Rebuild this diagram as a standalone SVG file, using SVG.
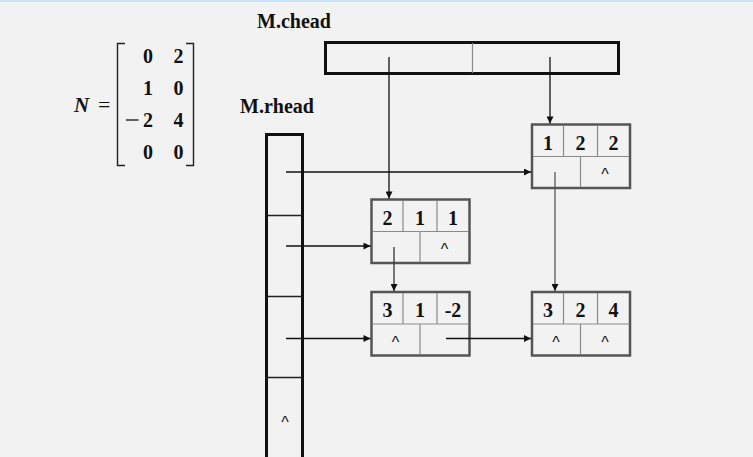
<svg xmlns="http://www.w3.org/2000/svg" width="753" height="457" viewBox="0 0 753 457">
<style>
.num{font-family:"Liberation Serif","Times New Roman",serif;font-weight:bold;font-size:20px;fill:#111;text-anchor:middle}
.mat{font-family:"Liberation Serif","Times New Roman",serif;font-weight:bold;font-size:20px;fill:#111;text-anchor:middle}
.lbl{font-family:"Liberation Serif","Times New Roman",serif;font-weight:bold;font-size:20px;fill:#111}
.nil{font-family:"Liberation Sans",Arial,sans-serif;font-size:16px;fill:#111;text-anchor:middle}
.box{fill:none;stroke:#555;stroke-width:2.5}
.in{fill:none;stroke:#8a8a8a;stroke-width:1.2}
.head{fill:none;stroke:#111;stroke-width:3}
.conn{fill:none;stroke:#111;stroke-width:1.3;marker-end:url(#ah)}
</style>
<defs>
<marker id="ah" viewBox="0 0 10 10" refX="10" refY="5" markerWidth="8" markerHeight="7" markerUnits="userSpaceOnUse" orient="auto">
<path d="M0,0 L10,5 L0,10 z" fill="#111"/>
</marker>
</defs>
<rect width="753" height="457" fill="#f2f2f2"/>
<rect width="753" height="2" fill="#c9e4f8"/>

<g id="matrix">
<text x="74" y="112" font-family="'Liberation Serif','Times New Roman',serif" font-style="italic" font-weight="bold" font-size="21" fill="#111">N</text>
<text x="98" y="112" font-family="'Liberation Serif','Times New Roman',serif" font-size="22" fill="#111">=</text>
<path d="M125,43.5 H117.5 V165.5 H125 M186,43.5 H193.5 V165.5 H186" fill="none" stroke="#222" stroke-width="1.4"/>
<text class="mat" x="148" y="63">0</text><text class="mat" x="178.5" y="63">2</text>
<text class="mat" x="148" y="95">1</text><text class="mat" x="178.5" y="95">0</text>
<text class="mat" x="148" y="127">2</text><text class="mat" x="178.5" y="127">4</text>
<path d="M126,120 H138.5" stroke="#111" stroke-width="1.3"/>
<text class="mat" x="148" y="159">0</text><text class="mat" x="178.5" y="159">0</text>
</g>

<g id="chead">
<text class="lbl" x="257" y="28">M.chead</text>
<rect class="head" x="325.5" y="42.5" width="293" height="31"/>
<path d="M472.5,43 V73" class="in"/>
</g>

<g id="rhead">
<text class="lbl" x="240" y="113">M.rhead</text>
<path d="M266.5,460 V134.5 H302.5 V460" class="head"/>
<path d="M267,215.5 H302 M267,296.5 H302 M267,377.5 H302" fill="none" stroke="#222" stroke-width="1.5"/>
<text class="nil" x="285" y="428">^</text>
</g>

<g id="node122">
<rect class="box" x="532" y="124.5" width="98" height="63.5"/>
<path class="in" d="M533,156.5 H629 M563.5,125.5 V156.5 M597.5,125.5 V156.5 M580.5,156.5 V187"/>
<text class="num" x="548" y="149.5">1</text><text class="num" x="580.5" y="149.5">2</text><text class="num" x="613.5" y="149.5">2</text>
<text class="nil" x="605" y="180">^</text>
</g>

<g id="node211">
<rect class="box" x="371.5" y="199.5" width="98" height="63.5"/>
<path class="in" d="M372.5,231.5 H468.5 M403,200.5 V231.5 M437,200.5 V231.5 M420,231.5 V262"/>
<text class="num" x="387.5" y="224.5">2</text><text class="num" x="420" y="224.5">1</text><text class="num" x="453" y="224.5">1</text>
<text class="nil" x="444.5" y="255">^</text>
</g>

<g id="node31m2">
<rect class="box" x="371.5" y="292" width="98" height="63.5"/>
<path class="in" d="M372.5,324 H468.5 M403,293 V324 M437,293 V324 M420,324 V354.5"/>
<text class="num" x="387.5" y="317">3</text><text class="num" x="420" y="317">1</text><text class="num" x="453" y="317">-2</text>
<text class="nil" x="395.5" y="347.5">^</text>
</g>

<g id="node324">
<rect class="box" x="532" y="292" width="98" height="63.5"/>
<path class="in" d="M533,324 H629 M563.5,293 V324 M597.5,293 V324 M580.5,324 V354.5"/>
<text class="num" x="548" y="317">3</text><text class="num" x="580.5" y="317">2</text><text class="num" x="613.5" y="317">4</text>
<text class="nil" x="556" y="347.5">^</text><text class="nil" x="605" y="347.5">^</text>
</g>

<g id="connectors">
<path class="conn" d="M389,57 V198.5"/>
<path class="conn" d="M550,57 V123.5"/>
<path class="conn" d="M286,172 H531"/>
<path class="conn" d="M286,246 H370.5"/>
<path class="conn" d="M286,338.5 H370.5"/>
<path class="conn" d="M555,172 V291" style="stroke:#555"/>
<path class="conn" d="M394,247 V291" style="stroke:#333"/>
<path class="conn" d="M446,338.5 H531"/>
</g>
</svg>
